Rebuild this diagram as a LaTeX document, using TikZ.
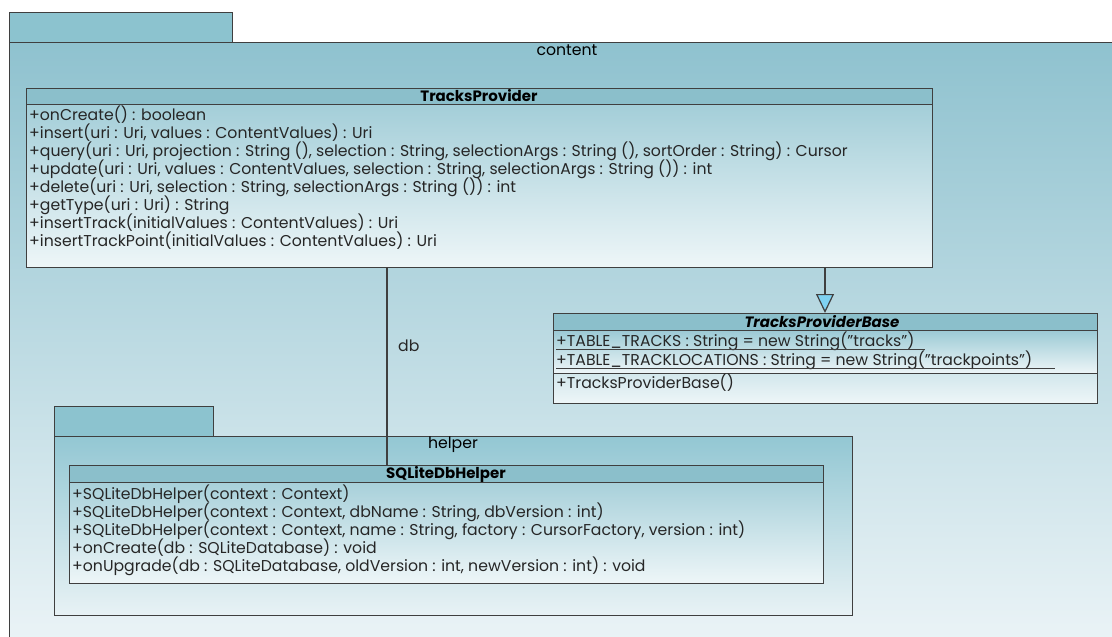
\documentclass[tikz,border=0pt]{standalone}
\usepackage{fontspec}
\setmainfont{Poppins}
\usetikzlibrary{arrows.meta}

\definecolor{umlline}{HTML}{3F3F3F}
\definecolor{tabfill}{HTML}{8CC3CF}
\definecolor{pkgtop}{HTML}{8FC2CF}
\definecolor{pkgbot}{HTML}{ECF4F7}
\definecolor{hlptop}{HTML}{93C7D3}
\definecolor{hlpbot}{HTML}{E8F2F5}
\definecolor{headfill}{HTML}{8BBFCB}
\definecolor{clstop}{HTML}{9CCAD5}
\definecolor{clsbot}{HTML}{EEF6F8}
\definecolor{arrowfill}{HTML}{7FD2F2}

\tikzset{
  umlfont/.style={font=\fontsize{15.7}{18}\selectfont},
  pkgtab/.style={draw=umlline, line width=1.2pt, fill=tabfill, anchor=north west, inner sep=0pt},
  pkgbody/.style={draw=umlline, line width=1.2pt, anchor=north west, inner sep=0pt},
  clsbox/.style={draw=umlline, line width=1.2pt, top color=clstop, bottom color=clsbot, anchor=north west, inner sep=0pt},
  clshead/.style={draw=umlline, line width=1.2pt, fill=headfill, anchor=north west, inner sep=0pt},
  member/.style={umlfont, anchor=base west, inner sep=0pt, text=black!85},
  headtext/.style={anchor=base, inner sep=0pt, font=\fontsize{15}{18}\selectfont\bfseries},
  conn/.style={draw=umlline, line width=1.2pt},
}

\begin{document}
\begin{tikzpicture}[x=1pt, y=-1pt]
\useasboundingbox (0,0) rectangle (1112,637);
\clip (0,0) rectangle (1112,637);
\fill[white] (0,0) rectangle (1112,637);

% package "content"
\node[pkgtab, minimum width=223pt, minimum height=30pt] (ctab) at (9,12) {};
\node[pkgbody, top color=pkgtop, bottom color=pkgbot, minimum width=1116pt, minimum height=610pt] (cbody) at (9,42) {};
\node[umlfont, anchor=base, inner sep=0pt] (clabel) at (567,56) {content};

% class TracksProvider
\node[clsbox, minimum width=906pt, minimum height=179pt] (tp) at (26,88) {};
\node[clshead, minimum width=906pt, minimum height=16pt] (tph) at (26,88) {};
\node[headtext] (tpname) at (479,101) {TracksProvider};
\node[member] (tp1) at (29,120) {+onCreate() : boolean};
\node[member] (tp2) at (29,138) {+insert(uri : Uri, values : ContentValues) : Uri};
\node[member] (tp3) at (29,156) {+query(uri : Uri, projection : String (), selection : String, selectionArgs : String (), sortOrder : String) : Cursor};
\node[member] (tp4) at (29,174) {+update(uri : Uri, values : ContentValues, selection : String, selectionArgs : String ()) : int};
\node[member] (tp5) at (29,192) {+delete(uri : Uri, selection : String, selectionArgs : String ()) : int};
\node[member] (tp6) at (29,210) {+getType(uri : Uri) : String};
\node[member] (tp7) at (29,228) {+insertTrack(initialValues : ContentValues) : Uri};
\node[member] (tp8) at (29,246) {+insertTrackPoint(initialValues : ContentValues) : Uri};

% class TracksProviderBase
\node[clsbox, minimum width=544pt, minimum height=90pt] (tpb) at (553,313) {};
\node[clshead, minimum width=544pt, minimum height=17pt] (tpbh) at (553,313) {};
\node[clsbox, minimum width=544pt, minimum height=43pt] (tpba) at (553,330) {};
\node[headtext, font=\fontsize{15}{18}\selectfont\bfseries\itshape] (tpbname) at (822,327) {TracksProviderBase};
\node[member] (tpb1) at (556,346) {+TABLE\_TRACKS : String = new String("tracks")};
\node[member] (tpb2) at (556,365) {+TABLE\_TRACKLOCATIONS : String = new String("trackpoints")};
\node[member] (tpb3) at (556,388) {+TracksProviderBase()};
\draw[conn, line width=0.9pt] (tpb1.base west) ++(0,3) -- ++(369,0);
\draw[conn, line width=0.9pt] (tpb2.base west) ++(0,3) -- ++(499,0);

% package "helper"
\node[pkgtab, minimum width=159pt, minimum height=30pt] (htab) at (54,406) {};
\node[pkgbody, top color=hlptop, bottom color=hlpbot, minimum width=798pt, minimum height=179pt] (hbody) at (54,436) {};
\node[umlfont, anchor=base, inner sep=0pt] (hlabel) at (453,448) {helper};

% class SQLiteDbHelper
\node[clsbox, minimum width=754pt, minimum height=118pt] (sq) at (69,465) {};
\node[clshead, minimum width=754pt, minimum height=17pt] (sqh) at (69,465) {};
\node[headtext] (sqname) at (446,478) {SQLiteDbHelper};
\node[member] (sq1) at (72,499) {+SQLiteDbHelper(context : Context)};
\node[member] (sq2) at (72,517) {+SQLiteDbHelper(context : Context, dbName : String, dbVersion : int)};
\node[member] (sq3) at (72,535) {+SQLiteDbHelper(context : Context, name : String, factory : CursorFactory, version : int)};
\node[member] (sq4) at (72,553) {+onCreate(db : SQLiteDatabase) : void};
\node[member] (sq5) at (72,571) {+onUpgrade(db : SQLiteDatabase, oldVersion : int, newVersion : int) : void};

% generalization TracksProvider -> TracksProviderBase
\coordinate (genx) at (825,0);
\draw[conn, -{Triangle[length=19pt, width=18pt, fill=arrowfill, line width=1.2pt]}]
  (tp.south -| genx) -- (tpbh.north -| genx);

% association "db" TracksProvider -- SQLiteDbHelper
\coordinate (assx) at (387,0);
\draw[conn] (tp.south -| assx) -- (sqh.north -| assx);
\node[member] (dblabel) at (398,351) {db};
\end{tikzpicture}
\end{document}
